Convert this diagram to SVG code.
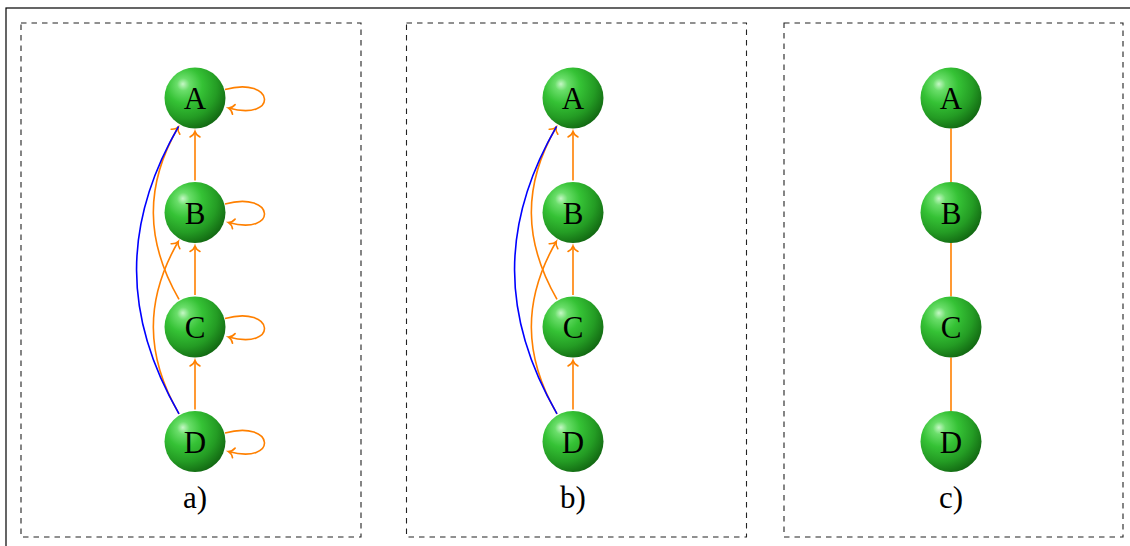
<svg xmlns="http://www.w3.org/2000/svg" width="1130" height="546" viewBox="0 0 1130 546">
<defs>
<radialGradient id="ball" cx="0.36" cy="0.33" r="0.74" fx="0.3" fy="0.27">
<stop offset="0" stop-color="#c6f7c6"/>
<stop offset="0.14" stop-color="#6ade6a"/>
<stop offset="0.4" stop-color="#35c235"/>
<stop offset="0.7" stop-color="#249c24"/>
<stop offset="1" stop-color="#106210"/>
</radialGradient>
<marker id="arr" markerUnits="userSpaceOnUse" markerWidth="12" markerHeight="12" refX="0" refY="0" orient="auto" overflow="visible">
<path d="M -5.5,-5 C -4,-2 -2,-0.6 0,0 C -2,0.6 -4,2 -5.5,5" fill="none" stroke="#ff8000" stroke-width="1.6" stroke-linecap="round"/>
</marker>
</defs>
<style>
.frame{fill:none;stroke:#000;stroke-width:1.2}
.panel{fill:none;stroke:#222;stroke-width:1.1;stroke-dasharray:5.5 5}
.or{fill:none;stroke:#ff8000;stroke-width:1.6}
.oa{fill:none;stroke:#ff8000;stroke-width:1.6;marker-end:url(#arr)}
.bl{fill:none;stroke:#0000ff;stroke-width:1.6}
.ball{fill:url(#ball)}
.lbl{font-family:"Liberation Serif","Times New Roman",serif;font-size:31px;fill:#000;text-anchor:middle}
</style>
<rect class="frame" x="6" y="8" width="1200" height="600"/>
<rect class="panel" x="21" y="23" width="340" height="514"/>
<rect class="panel" x="406.5" y="23" width="340" height="514"/>
<rect class="panel" x="784" y="23" width="339" height="514"/>

<g id="connectors">
<!-- panel a -->
<line class="oa" x1="195" y1="180.5" x2="195" y2="131.5"/>
<line class="oa" x1="195" y1="295" x2="195" y2="246"/>
<line class="oa" x1="195" y1="409.5" x2="195" y2="360.5"/>
<path class="oa" d="M179,299.3 C145.3,240.9 144.55,185.4 178.25,127"/>
<path class="oa" d="M179,413.8 C145.3,355.4 144.55,299.9 178.25,241.5"/>
<path class="bl" d="M179,413.8 C122.85,316.55 122.1,224.25 178.6,126.4"/>
<path class="oa" d="M225,89.5 C275.2,76 278.7,121.5 228.5,108"/>
<path class="oa" d="M225,204 C275.2,190.5 278.7,236 228.5,222.5"/>
<path class="oa" d="M225,318.5 C275.2,305 278.7,350.5 228.5,337"/>
<path class="oa" d="M225,433 C275.2,419.5 278.7,465 228.5,451.5"/>
<!-- panel b -->
<line class="oa" x1="573" y1="180.5" x2="573" y2="131.5"/>
<line class="oa" x1="573" y1="295" x2="573" y2="246"/>
<line class="oa" x1="573" y1="409.5" x2="573" y2="360.5"/>
<path class="oa" d="M557,299.3 C523.3,240.9 522.55,185.4 556.25,127"/>
<path class="oa" d="M557,413.8 C523.3,355.4 522.55,299.9 556.25,241.5"/>
<path class="bl" d="M557,413.8 C500.85,316.55 500.1,224.25 556.6,126.4"/>
<!-- panel c -->
<line class="or" x1="951" y1="128.5" x2="951" y2="182"/>
<line class="or" x1="951" y1="243" x2="951" y2="296.5"/>
<line class="or" x1="951" y1="357.5" x2="951" y2="411"/>
</g>

<g id="a-A"><circle class="ball" cx="195" cy="98" r="30.5"/><text class="lbl" x="195" y="109">A</text></g>
<g id="a-B"><circle class="ball" cx="195" cy="212.5" r="30.5"/><text class="lbl" x="195" y="223.5">B</text></g>
<g id="a-C"><circle class="ball" cx="195" cy="327" r="30.5"/><text class="lbl" x="195" y="338">C</text></g>
<g id="a-D"><circle class="ball" cx="195" cy="441.5" r="30.5"/><text class="lbl" x="195" y="452.5">D</text></g>
<text id="label-a" class="lbl" x="195" y="508">a)</text>

<g id="b-A"><circle class="ball" cx="573" cy="98" r="30.5"/><text class="lbl" x="573" y="109">A</text></g>
<g id="b-B"><circle class="ball" cx="573" cy="212.5" r="30.5"/><text class="lbl" x="573" y="223.5">B</text></g>
<g id="b-C"><circle class="ball" cx="573" cy="327" r="30.5"/><text class="lbl" x="573" y="338">C</text></g>
<g id="b-D"><circle class="ball" cx="573" cy="441.5" r="30.5"/><text class="lbl" x="573" y="452.5">D</text></g>
<text id="label-b" class="lbl" x="573" y="508">b)</text>

<g id="c-A"><circle class="ball" cx="951" cy="98" r="30.5"/><text class="lbl" x="951" y="109">A</text></g>
<g id="c-B"><circle class="ball" cx="951" cy="212.5" r="30.5"/><text class="lbl" x="951" y="223.5">B</text></g>
<g id="c-C"><circle class="ball" cx="951" cy="327" r="30.5"/><text class="lbl" x="951" y="338">C</text></g>
<g id="c-D"><circle class="ball" cx="951" cy="441.5" r="30.5"/><text class="lbl" x="951" y="452.5">D</text></g>
<text id="label-c" class="lbl" x="951" y="508">c)</text>
</svg>
